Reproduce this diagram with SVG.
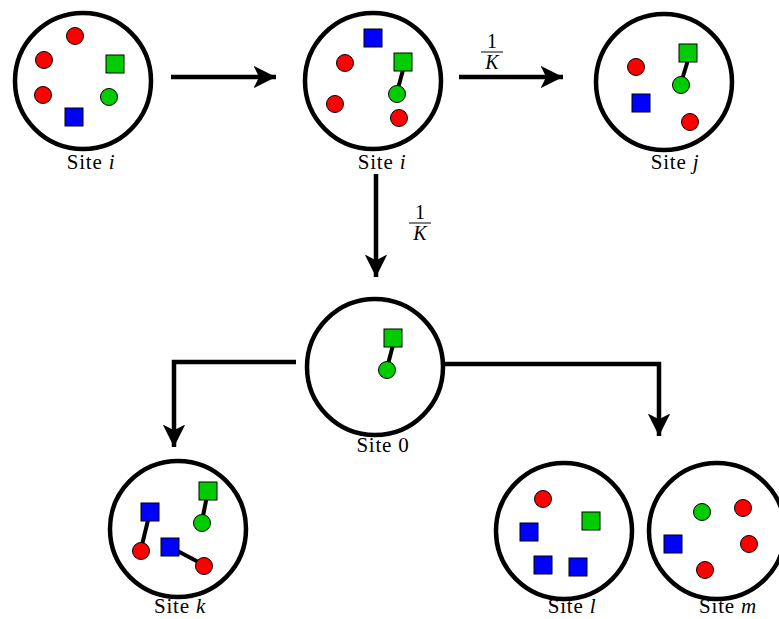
<svg xmlns="http://www.w3.org/2000/svg" width="779" height="619" viewBox="0 0 779 619">
<defs>
<marker id="ah" viewBox="0 0 10 10" refX="10" refY="5" markerWidth="5" markerHeight="5" orient="auto" markerUnits="strokeWidth"><path d="M0,0 L10,5 L0,10 L2.5,5 z" fill="#000"/></marker>
</defs>
<style>
.site{fill:#fff;stroke:#000;stroke-width:4.5}
.r{fill:#ff0000;stroke:#000;stroke-width:1}
.g{fill:#00cc00;stroke:#000;stroke-width:1}
.b{fill:#0000ff;stroke:#000;stroke-width:1}
.bond{stroke:#000;stroke-width:4;fill:none}
.conn{stroke:#000;stroke-width:4.5;fill:none}
text{font-family:"Liberation Serif","DejaVu Serif",serif;font-size:21px;fill:#000}
.lbl{text-anchor:middle;letter-spacing:0.8px}
.it{font-style:italic}
.fr{font-size:20px;text-anchor:middle}
</style>
<g id="connectors">
<line class="conn" x1="171" y1="77" x2="276" y2="77" marker-end="url(#ah)"/>
<line class="conn" x1="459" y1="77" x2="563" y2="77" marker-end="url(#ah)"/>
<line class="conn" x1="376" y1="174" x2="376" y2="277" marker-end="url(#ah)"/>
<polyline class="conn" points="296,362 174,362 174,447" marker-end="url(#ah)"/>
<polyline class="conn" points="444,364 659,364 659,436" marker-end="url(#ah)"/>
<g id="rate1">
<text class="fr" x="492" y="48">1</text>
<line x1="481" y1="52" x2="503" y2="52" stroke="#000" stroke-width="1"/>
<text class="fr it" x="492" y="69">K</text>
</g>
<g id="rate2">
<text class="fr" x="420" y="219">1</text>
<line x1="409" y1="223" x2="431" y2="223" stroke="#000" stroke-width="1"/>
<text class="fr it" x="420" y="240">K</text>
</g>
</g>
<g id="site-i-before">
<circle class="site" cx="83" cy="81" r="68"/>
<circle class="r" cx="75" cy="36" r="8.5"/>
<circle class="r" cx="44" cy="60" r="8.5"/>
<circle class="r" cx="43" cy="95" r="8.5"/>
<rect class="g" x="106" y="55" width="18" height="18"/>
<circle class="g" cx="109" cy="97" r="8.5"/>
<rect class="b" x="65" y="108" width="18" height="18"/>
<text class="lbl" x="91" y="169">Site <tspan class="it">i</tspan></text>
</g>
<g id="site-i-after">
<circle class="site" cx="373" cy="81" r="68"/>
<rect class="b" x="364" y="29" width="18" height="18"/>
<line class="bond" x1="403" y1="70" x2="397" y2="92"/>
<rect class="g" x="394" y="53" width="18" height="18"/>
<circle class="g" cx="397" cy="94" r="8.5"/>
<circle class="r" cx="345" cy="63" r="8.5"/>
<circle class="r" cx="335" cy="104" r="8.5"/>
<circle class="r" cx="399" cy="118" r="8.5"/>
<text class="lbl" x="382" y="169">Site <tspan class="it">i</tspan></text>
</g>
<g id="site-j">
<circle class="site" cx="664" cy="82" r="68"/>
<circle class="r" cx="636" cy="67" r="8.5"/>
<rect class="b" x="632" y="94" width="18" height="18"/>
<line class="bond" x1="688" y1="60" x2="681" y2="83"/>
<rect class="g" x="679" y="44" width="18" height="18"/>
<circle class="g" cx="681" cy="85" r="8.5"/>
<circle class="r" cx="690" cy="122" r="8.5"/>
<text class="lbl" x="675" y="169">Site <tspan class="it">j</tspan></text>
</g>
<g id="site-0">
<circle class="site" cx="375" cy="367" r="68"/>
<line class="bond" x1="393" y1="345" x2="387" y2="368"/>
<rect class="g" x="384" y="329" width="18" height="18"/>
<circle class="g" cx="387" cy="370" r="8.5"/>
<text class="lbl" x="383" y="452">Site 0</text>
</g>
<g id="site-k">
<circle class="site" cx="178" cy="529" r="68"/>
<line class="bond" x1="150" y1="512" x2="141" y2="549"/>
<line class="bond" x1="170" y1="547" x2="204" y2="565"/>
<line class="bond" x1="208" y1="491" x2="202" y2="521"/>
<rect class="b" x="141" y="503" width="18" height="18"/>
<circle class="r" cx="141" cy="551" r="8.5"/>
<rect class="b" x="161" y="538" width="18" height="18"/>
<circle class="r" cx="204" cy="566" r="8.5"/>
<rect class="g" x="199" y="482" width="18" height="18"/>
<circle class="g" cx="202" cy="523" r="8.5"/>
<text class="lbl" x="180" y="613">Site <tspan class="it">k</tspan></text>
</g>
<g id="site-l">
<circle class="site" cx="564" cy="531" r="68"/>
<circle class="r" cx="543" cy="499" r="8.5"/>
<rect class="g" x="582" y="512" width="18" height="18"/>
<rect class="b" x="520" y="523" width="18" height="18"/>
<rect class="b" x="534" y="556" width="18" height="18"/>
<rect class="b" x="569" y="558" width="18" height="18"/>
<text class="lbl" x="572" y="613">Site <tspan class="it">l</tspan></text>
</g>
<g id="site-m">
<circle class="site" cx="717" cy="531" r="68"/>
<circle class="g" cx="702" cy="512" r="8.5"/>
<circle class="r" cx="743" cy="508" r="8.5"/>
<circle class="r" cx="749" cy="544" r="8.5"/>
<circle class="r" cx="705" cy="570" r="8.5"/>
<rect class="b" x="664" y="535" width="18" height="18"/>
<text class="lbl" x="728" y="613">Site <tspan class="it">m</tspan></text>
</g>
</svg>
